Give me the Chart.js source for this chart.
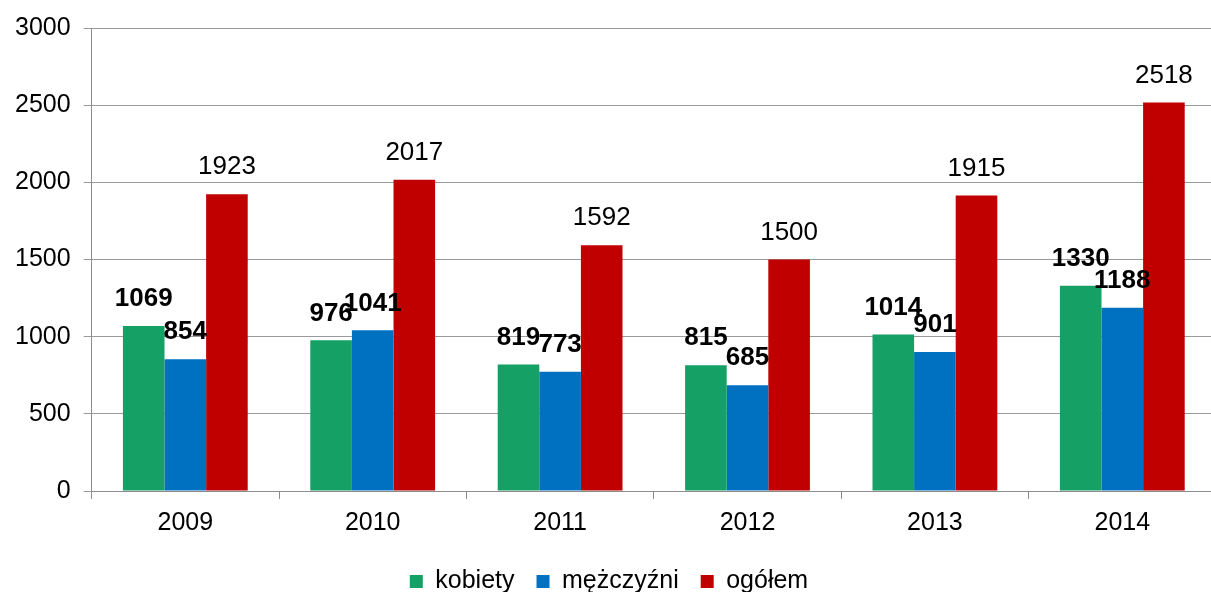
<!DOCTYPE html>
<html>
<head>
<meta charset="utf-8">
<script src="https://cdn.jsdelivr.net/npm/chart.js@4"></script>
<style>
  html, body { margin: 0; padding: 0; background: #fff; overflow: hidden; }
  #wrap { width: 1216px; height: 592px; }
</style>
</head>
<body>
<div id="wrap"><canvas id="myChart"></canvas></div>
<script>
const years = ["2009", "2010", "2011", "2012", "2013", "2014"];
const kobiety = [1069, 976, 819, 815, 1014, 1330];
const mezczyzni = [854, 1041, 773, 685, 901, 1188];
const ogolem = [1923, 2017, 1592, 1500, 1915, 2518];
const yTicks = [0, 500, 1000, 1500, 2000, 2500, 3000];

const font = "'Liberation Sans', Arial, sans-serif";

// labels sit a fixed distance above each bar
const barLabels = {
    id: "barLabels",
    afterDatasetsDraw(chart) {
        const ctx = chart.ctx;
        ctx.save();
        ctx.fillStyle = "#000";
        ctx.textAlign = "center";
        ctx.textBaseline = "bottom";
        chart.data.datasets.forEach((ds, i) => {
            const meta = chart.getDatasetMeta(i);
            ctx.font = (ds.boldLabels ? "bold " : "") + "26px " + font;
            meta.data.forEach((bar, j) => {
                ctx.fillText(ds.data[j], bar.x, bar.y - 14);
            });
        });
        ctx.restore();
    }
};

new Chart("myChart", {
    type: "bar",
    data: {
        labels: years,
        datasets: [{
            label: "kobiety",
            data: kobiety,
            backgroundColor: "#15A065",
            boldLabels: true
        }, {
            label: "mężczyźni",
            data: mezczyzni,
            backgroundColor: "#0070C0",
            boldLabels: true
        }, {
            label: "ogółem",
            data: ogolem,
            backgroundColor: "#C00000",
            boldLabels: false
        }]
    },
    options: {
        responsive: true,
        maintainAspectRatio: false,
        animation: false,
        layout: { padding: { left: 2, top: 12, right: 0, bottom: -12 } },
        datasets: {
            bar: { categoryPercentage: 0.666, barPercentage: 1.0 }
        },
        plugins: {
            legend: {
                position: "bottom",
                labels: {
                    color: "#000",
                    font: { family: font, size: 25 },
                    boxWidth: 13,
                    boxHeight: 13,
                    padding: 22
                }
            },
            tooltip: { enabled: false }
        },
        scales: {
            x: {
                grid: {
                    offset: true,
                    drawOnChartArea: false,
                    drawTicks: true,
                    tickLength: 8,
                    color: "#8c8c8c"
                },
                border: { color: "#8c8c8c" },
                ticks: {
                    color: "#000",
                    font: { family: font, size: 25 },
                    padding: 9
                }
            },
            y: {
                min: 0,
                max: 3000,
                afterBuildTicks(axis) {
                    axis.ticks = yTicks.map(v => ({ value: v }));
                },
                grid: {
                    color: "#9a9a9a",
                    tickLength: 8
                },
                border: { color: "#8c8c8c" },
                ticks: {
                    color: "#000",
                    font: { family: font, size: 25 },
                    padding: 13,
                    callback: v => String(v)
                }
            }
        }
    },
    plugins: [barLabels]
});
</script>
</body>
</html>
